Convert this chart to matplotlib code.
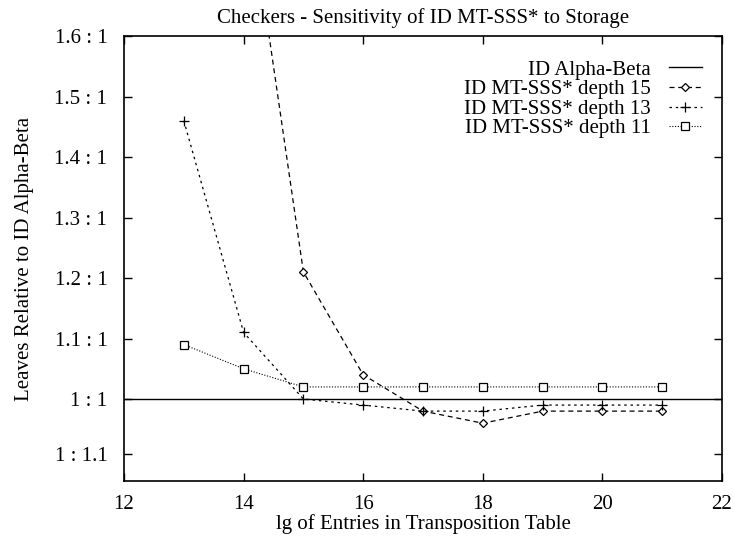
import matplotlib
matplotlib.use("Agg")
import matplotlib.pyplot as plt

x_d15 = [14, 15, 16, 17, 18, 19, 20, 21]
y_d15 = [1.89, 1.21, 1.04, 0.98, 0.96, 0.98, 0.98, 0.98]
x_d13 = [13, 14, 15, 16, 17, 18, 19, 20, 21]
y_d13 = [1.46, 1.11, 1.00, 0.99, 0.98, 0.98, 0.99, 0.99, 0.99]
x_d11 = [13, 14, 15, 16, 17, 18, 19, 20, 21]
y_d11 = [1.09, 1.05, 1.02, 1.02, 1.02, 1.02, 1.02, 1.02, 1.02]
ytick_vals = [1 / 1.1, 1.0, 1.1, 1.2, 1.3, 1.4, 1.5, 1.6]
ytick_labels = ["1 : 1.1", "1 : 1", "1.1 : 1", "1.2 : 1", "1.3 : 1", "1.4 : 1", "1.5 : 1", "1.6 : 1"]
xtick_vals = [12, 14, 16, 18, 20, 22]

plt.rcParams['font.family'] = ['Liberation Serif', 'DejaVu Serif']
plt.rcParams['font.size'] = 15

fig = plt.figure(figsize=(7.34, 5.40), dpi=100)
ax = fig.add_axes([124 / 734, 1 - 481 / 540, (722 - 124) / 734, (481 - 36) / 540])

ax.axhline(1.0, color='black', lw=1.0, label='ID Alpha-Beta')
ax.plot(x_d15, y_d15, color='black', lw=0.9, ls=(0, (4, 3)), marker='D', ms=4.5,
        mfc='white', mec='black', mew=0.9, label='ID MT-SSS* depth 15')
ax.plot(x_d13, y_d13, color='black', lw=0.9, ls=(0, (2, 3)), marker='+', ms=7,
        mew=0.9, label='ID MT-SSS* depth 13')
ax.plot(x_d11, y_d11, color='black', lw=0.8, ls=(0, (1, 1.5)), marker='s', ms=6,
        mfc='white', mec='black', mew=0.9, label='ID MT-SSS* depth 11')

ax.set_xlim(12, 22)
ax.set_ylim(0.8645, 1.6)
ax.set_xticks(xtick_vals)
ax.set_yticks(ytick_vals)
ax.set_yticklabels(ytick_labels)
ax.tick_params(direction='in', top=True, right=True, length=6, width=1)
ax.tick_params(axis='y', pad=12)
ax.tick_params(axis='x', pad=10)
for s in ax.spines.values():
    s.set_linewidth(1.2)

ax.set_title("Checkers - Sensitivity of ID MT-SSS* to Storage", fontsize=15, pad=9)
ax.set_xlabel("lg of Entries in Transposition Table", labelpad=0)
ax.set_ylabel("Leaves Relative to ID Alpha-Beta", labelpad=15)

leg = ax.legend(loc='upper right', frameon=False, markerfirst=False, handlelength=1.6,
                labelspacing=0.0, borderaxespad=0.5, fontsize=15, handletextpad=0.85,
                bbox_to_anchor=(0.998, 0.988))

fig.savefig("out.png", dpi=100)
